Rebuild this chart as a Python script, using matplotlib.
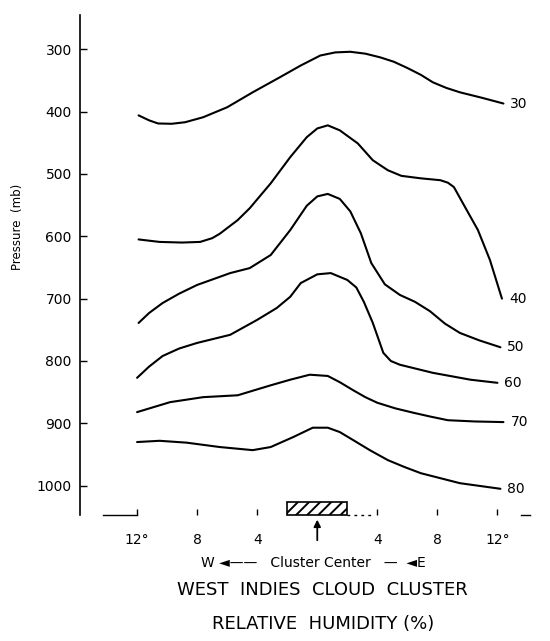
import numpy as np
import matplotlib.pyplot as plt
from matplotlib.patches import Rectangle

# ---------------------------------------------
# Relative humidity isolines (distance in deg from centre, pressure mb)
# negative = west, positive = east
# ---------------------------------------------
x_30 = [-11.9, -11.2, -10.6, -9.7, -8.8, -7.6, -6.0, -4.3, -2.5, -1.1, 0.2, 1.2, 2.2, 3.2, 4.2, 5.1, 6.0, 6.9, 7.7, 8.6, 9.5, 11.0, 12.4]
p_30 = [406, 414, 419, 419.5, 417, 409, 393, 369, 345, 326, 310, 305, 304, 307, 313, 320, 330, 341, 353, 362, 369, 378, 387]

x_40 = [-11.9, -10.5, -9.0, -7.8, -7.0, -6.5, -5.3, -4.5, -3.1, -1.8, -0.7, 0.0, 0.7, 1.5, 2.7, 3.7, 4.7, 5.6, 6.9, 8.2, 8.7, 9.1, 9.7, 10.7, 11.5, 12.3]
p_40 = [605, 609, 610, 609, 603, 596, 574, 555, 515, 473, 441, 427, 422, 430, 451, 478, 494, 503, 507, 510, 514, 521, 547, 590, 638, 700]

x_50 = [-11.9, -11.2, -10.3, -9.2, -8.0, -5.8, -4.5, -3.1, -1.8, -0.7, 0.0, 0.7, 1.5, 2.2, 2.9, 3.6, 4.5, 5.5, 6.5, 7.5, 8.5, 9.5, 10.8, 12.2]
p_50 = [739, 723, 707, 692, 678, 659, 651, 630, 590, 551, 536, 532, 540, 560, 595, 643, 677, 694, 705, 720, 740, 755, 767, 778]

x_60 = [-12.0, -11.2, -10.3, -9.2, -8.0, -5.8, -4.0, -2.7, -1.8, -1.1, 0.0, 0.9, 2.0, 2.6, 3.1, 3.7, 4.4, 4.9, 5.5, 7.7, 10.2, 12.0]
p_60 = [827, 809, 792, 780, 771, 758, 734, 715, 697, 675, 661, 659, 670, 682, 705, 739, 787, 800, 806, 819, 830, 835]

x_70 = [-12.0, -9.8, -7.6, -5.3, -3.1, -1.8, -0.5, 0.7, 1.5, 2.4, 3.2, 4.0, 5.2, 6.4, 7.5, 8.7, 10.5, 12.4]
p_70 = [882, 866, 858, 855, 839, 830, 822, 824, 834, 847, 858, 867, 876, 883, 889, 895, 897, 898]

x_80 = [-12.0, -10.5, -8.7, -6.5, -4.3, -3.1, -1.6, -0.3, 0.7, 1.5, 2.4, 3.5, 4.7, 5.8, 6.9, 8.2, 9.5, 12.2]
p_80 = [930, 928, 931, 938, 943, 938, 922, 907, 907, 914, 927, 943, 959, 970, 980, 988, 996, 1005]

rh_levels = ["30", "40", "50", "60", "70", "80"]

# axis ticks
x_ticks = [-12, -8, -4, 4, 8, 12]
x_tick_labels = ["12°", "8", "4", "4", "8", "12°"]
p_ticks = [300, 400, 500, 600, 700, 800, 900, 1000]

core_halfwidth = 2  # hatched cluster core, deg

# ---------------------------------------------
# Figure
# ---------------------------------------------
plt.rcParams["hatch.linewidth"] = 1.4

fig = plt.figure(figsize=(5.5, 6.41), dpi=100)
ax = fig.add_axes([0.1455, 0.1966, 0.8545, 0.78])

curves = [(x_30, p_30), (x_40, p_40), (x_50, p_50),
          (x_60, p_60), (x_70, p_70), (x_80, p_80)]

for (xs, ps), lab in zip(curves, rh_levels):
    ax.plot(xs, ps, color="black", lw=1.5, solid_capstyle="round", solid_joinstyle="round")
    ax.annotate(lab, (xs[-1], ps[-1]), xytext=(5, 0), textcoords="offset points",
                ha="left", va="center", fontsize=10, annotation_clip=False)

base_p = 1047
ax.set_xlim(-15.8, 15.5)
ax.set_ylim(base_p, 245)

# cluster core box and centre arrow
ax.add_patch(Rectangle((-core_halfwidth, 1026), 2 * core_halfwidth, base_p - 1026,
                       fill=False, hatch="///", edgecolor="black", lw=1.2, clip_on=False))
ax.annotate("", xy=(0, 1050), xytext=(0, 1092),
            arrowprops=dict(arrowstyle="-|>", color="black", lw=1.3, mutation_scale=10),
            annotation_clip=False)

# broken baseline bits, like the scan
ax.plot([-14.3, -12], [base_p, base_p], color="black", lw=1, clip_on=False)
ax.plot([core_halfwidth, 3.8], [base_p, base_p], color="black", lw=1,
        linestyle=(0, (2, 3)), clip_on=False)
ax.plot([13.6, 14.2], [base_p, base_p], color="black", lw=1, clip_on=False)

for s in ["top", "right", "bottom"]:
    ax.spines[s].set_visible(False)
ax.spines["left"].set_linewidth(1.2)

ax.set_yticks(p_ticks)
ax.set_yticklabels([str(p) for p in p_ticks])
ax.tick_params(axis="y", direction="in", length=5, width=1, pad=6, labelsize=10)
ax.set_xticks(x_ticks)
ax.set_xticklabels(x_tick_labels)
ax.tick_params(axis="x", direction="in", length=4, width=1, pad=13, labelsize=10)

ax.set_ylabel("Pressure  (mb)", fontsize=8.5)
ax.yaxis.set_label_coords(-0.12, 0.576)

fig.text(0.569, 0.1217, "W \u25c4\u2014\u2014   Cluster Center   \u2014  \u25c4E",
         ha="center", va="center", fontsize=10)
fig.text(0.587, 0.0796, "WEST  INDIES  CLOUD  CLUSTER", ha="center", va="center", fontsize=13)
fig.text(0.587, 0.0265, "RELATIVE  HUMIDITY (%)", ha="center", va="center", fontsize=13)

plt.savefig("out.png", dpi=100)
plt.close()
